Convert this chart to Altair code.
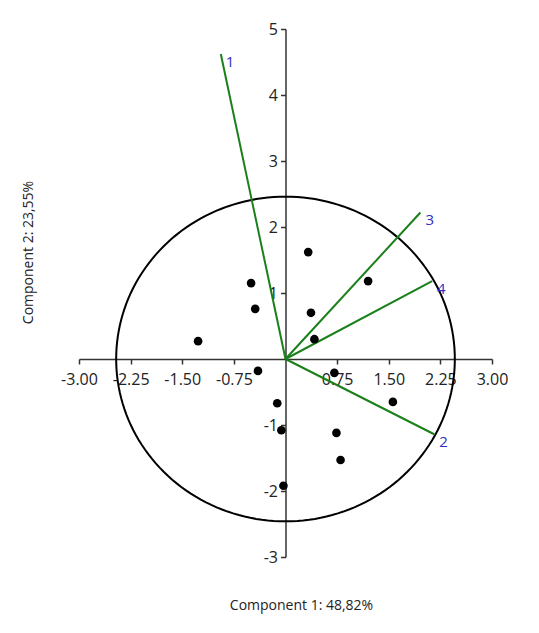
import altair as alt
import pandas as pd

# Scores (observations)
score_x = [-1.27, -0.50, -0.44, 0.33, 0.37, 0.42, 1.20, -0.40, 0.71, 1.56, -0.12, -0.06, 0.74, 0.80, -0.03]
score_y = [0.27, 1.15, 0.76, 1.62, 0.70, 0.30, 1.18, -0.18, -0.21, -0.65, -0.67, -1.08, -1.12, -1.53, -1.92]

# Loadings (variables)
load_names = ["1", "2", "3", "4"]
load_x = [-0.94, 2.16, 1.96, 2.13]
load_y = [4.62, -1.14, 2.22, 1.18]

circle_radius = 2.46

x_ticks = [-3.0, -2.25, -1.5, -0.75, 0.75, 1.5, 2.25, 3.0]
y_ticks = [-3, -2, -1, 1, 2, 3, 4, 5]

W, H = 413, 528
FONT = "Open Sans"
AXC = "#333333"

scores = pd.DataFrame({"x": score_x, "y": score_y})
loads = pd.DataFrame({"name": load_names, "x": load_x, "y": load_y,
                      "x0": [0.0] * 4, "y0": [0.0] * 4})

xscale = alt.Scale(domain=[-3, 3], nice=False, zero=False)
yscale = alt.Scale(domain=[-3, 5], nice=False, zero=False)

xaxis = alt.Axis(values=x_ticks, grid=False,
                 labelExpr="(datum.value < 0 ? '-' : '') + format(abs(datum.value), '.2f')",
                 offset=-(H * 3 / 8), domainColor=AXC, tickColor=AXC,
                 domainWidth=1.5, tickWidth=1.5, tickSize=5,
                 labelFont=FONT, labelFontSize=16, labelColor="#222222",
                 labelPadding=7, labelFlush=False, labelOverlap=False,
                 title="Component 1: 48,82%", titleFont=FONT, titleFontSize=14,
                 titleFontWeight="normal", titleColor="#222222",
                 titleX=222, titleY=246, titleAlign="center", titleBaseline="middle")
yaxis = alt.Axis(values=y_ticks, grid=False,
                 labelExpr="(datum.value < 0 ? '-' : '') + format(abs(datum.value), 'd')",
                 offset=-(W / 2), domainColor=AXC, tickColor=AXC,
                 domainWidth=1.5, tickWidth=1.5, tickSize=5,
                 labelFont=FONT, labelFontSize=16, labelColor="#222222",
                 labelPadding=3, labelFlush=False, labelOverlap=False,
                 title="Component 2: 23,55%", titleFont=FONT, titleFontSize=14,
                 titleFontWeight="normal", titleColor="#222222",
                 titleX=-257, titleY=223, titleAlign="center", titleBaseline="middle")

circle = alt.Chart(alt.sequence(0, 361, 2, as_="deg")).transform_calculate(
    cx=f"{circle_radius}*cos(datum.deg*PI/180)",
    cy=f"{circle_radius}*sin(datum.deg*PI/180)",
).mark_line(color="black", strokeWidth=2).encode(
    x=alt.X("cx:Q", scale=xscale, axis=xaxis),
    y=alt.Y("cy:Q", scale=yscale, axis=yaxis),
    order="deg:Q",
)

vectors = alt.Chart(loads).mark_rule(color="#1a801a", strokeWidth=2).encode(
    x=alt.X("x0:Q", scale=xscale, axis=xaxis),
    y=alt.Y("y0:Q", scale=yscale, axis=yaxis),
    x2="x:Q",
    y2="y:Q",
)

labels = alt.Chart(loads).mark_text(
    align="left", baseline="middle", dx=5, dy=8,
    color="#2e2ec4", font=FONT, fontSize=15,
).encode(
    x=alt.X("x:Q", scale=xscale, axis=xaxis),
    y=alt.Y("y:Q", scale=yscale, axis=yaxis),
    text="name:N",
)

points = alt.Chart(scores).mark_circle(size=75, color="black", opacity=1).encode(
    x=alt.X("x:Q", scale=xscale, axis=xaxis),
    y=alt.Y("y:Q", scale=yscale, axis=yaxis),
)

chart = alt.layer(circle, vectors, labels, points).properties(
    width=W, height=H,
    background="white",
    autosize=alt.AutoSizeParams(type="none"),
    padding={"left": 71, "top": 21, "right": 39, "bottom": 68},
).configure_view(strokeWidth=0, stroke=None)

chart.save("out.html", embed_options={"renderer": "svg", "actions": False})
